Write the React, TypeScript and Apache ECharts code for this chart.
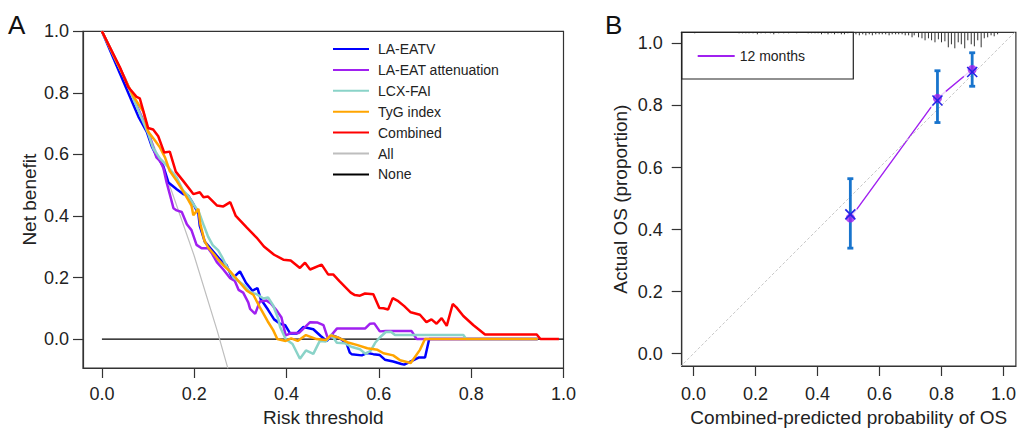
import React, { useEffect, useRef } from "react";
import * as echarts from "echarts";

// ---------- Panel A: decision curves ----------
const tickValues = [0, 0.2, 0.4, 0.6, 0.8, 1.0];

const laEatv: [number, number][] = [
  [0, 1.0], [0.04, 0.86], [0.079, 0.723], [0.097, 0.674], [0.108, 0.626], [0.118, 0.596], [0.133, 0.562],
  [0.144, 0.509], [0.162, 0.487], [0.176, 0.471], [0.187, 0.466], [0.198, 0.439], [0.209, 0.407],
  [0.212, 0.368], [0.223, 0.316], [0.238, 0.29], [0.256, 0.258], [0.27, 0.24], [0.283, 0.197],
  [0.299, 0.22], [0.312, 0.183], [0.326, 0.157], [0.337, 0.166], [0.344, 0.13], [0.36, 0.095],
  [0.373, 0.064], [0.386, 0.05], [0.397, 0.045], [0.408, 0.018], [0.422, 0.018], [0.436, 0.039],
  [0.458, 0.032], [0.474, 0.01], [0.487, -0.006], [0.498, 0.013], [0.516, 0.002], [0.53, -0.014],
  [0.537, -0.044], [0.541, -0.049], [0.563, -0.053], [0.575, -0.045], [0.588, -0.049], [0.602, -0.052],
  [0.613, -0.067], [0.631, -0.073], [0.649, -0.081], [0.655, -0.083], [0.686, -0.06], [0.7, -0.06],
  [0.709, 0.0], [0.944, 0.0],
];

const laEatAtt: [number, number][] = [
  [0, 1.0], [0.05, 0.846], [0.1, 0.675], [0.118, 0.59], [0.126, 0.578], [0.133, 0.557], [0.14, 0.51],
  [0.147, 0.471], [0.155, 0.425], [0.162, 0.418], [0.173, 0.413], [0.184, 0.373], [0.194, 0.354],
  [0.205, 0.306], [0.216, 0.295], [0.23, 0.295], [0.238, 0.279], [0.249, 0.25], [0.263, 0.226],
  [0.277, 0.199], [0.288, 0.189], [0.296, 0.16], [0.306, 0.151], [0.317, 0.119], [0.321, 0.098],
  [0.332, 0.082], [0.342, 0.122], [0.357, 0.125], [0.366, 0.116], [0.38, 0.09], [0.389, 0.07],
  [0.398, 0.012], [0.411, 0.02], [0.427, 0.02], [0.44, 0.039], [0.451, 0.055], [0.466, 0.054],
  [0.48, 0.045], [0.49, 0.0], [0.509, 0.034], [0.537, 0.034], [0.57, 0.034], [0.581, 0.05],
  [0.59, 0.051], [0.602, 0.025], [0.615, 0.026], [0.671, 0.026], [0.682, 0.0], [0.944, 0.0],
];

const lcxFai: [number, number][] = [
  [0, 1.0], [0.05, 0.845], [0.1, 0.669], [0.111, 0.62], [0.126, 0.586], [0.14, 0.565], [0.162, 0.525],
  [0.176, 0.482], [0.187, 0.466], [0.198, 0.439], [0.21, 0.413], [0.221, 0.368], [0.23, 0.333],
  [0.24, 0.305], [0.252, 0.288], [0.26, 0.267], [0.27, 0.237], [0.285, 0.2], [0.299, 0.185],
  [0.308, 0.175], [0.321, 0.152], [0.335, 0.146], [0.35, 0.132], [0.36, 0.135], [0.371, 0.109],
  [0.382, 0.066], [0.386, 0.039], [0.398, 0.0], [0.413, -0.016], [0.429, -0.064], [0.442, -0.037],
  [0.458, -0.048], [0.472, -0.006], [0.485, -0.008], [0.497, 0.015], [0.509, -0.012], [0.527, -0.014],
  [0.54, -0.025], [0.559, -0.033], [0.571, -0.048], [0.582, -0.038], [0.592, -0.012], [0.602, 0.005],
  [0.615, 0.023], [0.626, 0.024], [0.635, 0.013], [0.671, 0.013], [0.783, 0.013], [0.789, 0.0],
  [0.944, 0.0],
];

const tygIndex: [number, number][] = [
  [0, 1.0], [0.05, 0.845], [0.068, 0.789], [0.09, 0.738], [0.1, 0.674], [0.115, 0.645], [0.126, 0.622],
  [0.137, 0.589], [0.147, 0.546], [0.162, 0.514], [0.173, 0.487], [0.187, 0.452], [0.194, 0.434],
  [0.198, 0.402], [0.209, 0.423], [0.213, 0.375], [0.222, 0.32], [0.23, 0.298], [0.241, 0.279],
  [0.251, 0.26], [0.265, 0.237], [0.279, 0.218], [0.299, 0.183], [0.314, 0.157], [0.328, 0.144],
  [0.342, 0.104], [0.359, 0.058], [0.371, 0.029], [0.38, 0.0], [0.398, -0.006], [0.41, 0.002],
  [0.424, -0.006], [0.442, 0.013], [0.465, 0.0], [0.485, -0.003], [0.496, 0.012], [0.51, 0.006],
  [0.535, -0.012], [0.552, -0.019], [0.575, -0.03], [0.597, -0.035], [0.61, -0.046], [0.631, -0.053],
  [0.646, -0.069], [0.669, -0.078], [0.689, -0.035], [0.7, 0.0], [0.944, 0.0],
];

const combined: [number, number][] = [
  [0, 1.0], [0.02, 0.94], [0.039, 0.883], [0.057, 0.819], [0.075, 0.787], [0.082, 0.782], [0.1, 0.686],
  [0.111, 0.681], [0.122, 0.659], [0.135, 0.606], [0.147, 0.609], [0.16, 0.544], [0.176, 0.514],
  [0.198, 0.471], [0.212, 0.477], [0.22, 0.461], [0.23, 0.463], [0.249, 0.434], [0.263, 0.431],
  [0.278, 0.445], [0.29, 0.4], [0.314, 0.362], [0.335, 0.33], [0.351, 0.301], [0.373, 0.274],
  [0.393, 0.258], [0.409, 0.255], [0.429, 0.231], [0.44, 0.248], [0.451, 0.226], [0.476, 0.242],
  [0.49, 0.21], [0.501, 0.21], [0.514, 0.189], [0.539, 0.151], [0.548, 0.143], [0.559, 0.141],
  [0.57, 0.148], [0.588, 0.146], [0.601, 0.101], [0.61, 0.1], [0.62, 0.096], [0.63, 0.133],
  [0.642, 0.123], [0.655, 0.107], [0.669, 0.087], [0.689, 0.079], [0.703, 0.055], [0.714, 0.064],
  [0.725, 0.05], [0.736, 0.068], [0.747, 0.043], [0.76, 0.114], [0.768, 0.103], [0.783, 0.075],
  [0.805, 0.045], [0.83, 0.015], [0.942, 0.015], [0.95, 0.0], [0.99, 0.0],
];

const treatAll: [number, number][] = [
  [0, 1.0], [0.05, 0.846], [0.1, 0.676], [0.15, 0.485], [0.2, 0.27], [0.25, 0.026], [0.273, -0.096],
];

const treatNone: [number, number][] = [[0, 0], [1, 0]];

// ---------- Panel B: calibration ----------
const predProb = [0.506, 0.787, 0.899];
const observedOS = [0.437, 0.823, 0.916];
const kmOS = [0.449, 0.816, 0.908];
const ciLow = [0.34, 0.745, 0.862];
const ciHigh = [0.564, 0.912, 0.97];
const idealLine: [number, number][] = [[-0.1, -0.1], [1.1, 1.1]];

// rug of predicted probabilities: [position, frequency]
const rugFreq: [number, number][] = [
  [0.004, 1], [0.147, 1], [0.158, 1], [0.169, 1], [0.179, 1], [0.192, 1], [0.206, 2], [0.218, 1],
  [0.232, 1], [0.248, 1], [0.259, 2], [0.275, 1], [0.291, 1], [0.307, 1], [0.333, 1], [0.37, 1],
  [0.381, 1], [0.392, 1], [0.402, 1], [0.413, 2], [0.424, 1], [0.434, 2], [0.445, 1], [0.455, 2],
  [0.466, 1], [0.477, 2], [0.487, 2], [0.498, 1],
  [0.524, 2], [0.535, 3], [0.546, 2], [0.556, 3], [0.567, 2], [0.577, 3], [0.588, 2], [0.599, 2],
  [0.609, 2], [0.62, 2], [0.631, 3], [0.641, 2], [0.652, 2], [0.662, 2], [0.673, 2], [0.683, 3],
  [0.694, 3], [0.705, 5], [0.712, 3], [0.726, 5], [0.737, 6], [0.747, 8], [0.758, 6], [0.768, 8],
  [0.779, 10], [0.79, 7], [0.8, 10], [0.811, 9], [0.822, 15], [0.832, 12], [0.843, 16], [0.854, 10],
  [0.864, 12], [0.875, 16], [0.885, 8], [0.896, 12], [0.906, 14], [0.917, 8], [0.928, 15], [0.938, 6],
  [0.949, 5], [0.96, 3], [0.97, 4], [0.981, 2],
];

const FONT = "'Liberation Sans', Arial, Helvetica, sans-serif";
const TXT = "#222";
const AX = "#333";

const leftYMax = 1.0;
const rightYMax = 1.036;

function axisCommon(min: number, max: number, margin: number) {
  return {
    type: "value" as const,
    min,
    max,
    axisLine: { show: true, onZero: false, lineStyle: { color: AX, width: 1.2 } },
    axisTick: { show: true, customValues: tickValues, length: 10, lineStyle: { color: AX, width: 1.2 } },
    axisLabel: {
      show: true,
      customValues: tickValues,
      formatter: (v: number) => v.toFixed(1),
      fontFamily: FONT,
      fontSize: 18,
      color: TXT,
      margin,
    },
    splitLine: { show: false },
    nameTextStyle: { fontFamily: FONT, fontSize: 19, color: TXT },
    nameLocation: "middle" as const,
  };
}

function line(name: string, data: [number, number][], color: string, width: number) {
  return {
    name,
    type: "line" as const,
    xAxisIndex: 0,
    yAxisIndex: 0,
    data,
    showSymbol: false,
    symbol: "none",
    color,
    lineStyle: { color, width },
    silent: true,
  };
}

export default function App() {
  const ref = useRef<HTMLDivElement>(null);

  useEffect(() => {
    const chart = echarts.init(ref.current!, null, { renderer: "svg" });

    const option: any = {
      animation: false,
      backgroundColor: "#ffffff",
      textStyle: { fontFamily: FONT },
      grid: [
        { left: 83, top: 31.3, width: 480.5, height: 342, show: true, borderColor: AX, borderWidth: 1.2, backgroundColor: "transparent" },
        { left: 681.7, top: 32.3, width: 338.5, height: 338.4, show: true, borderColor: AX, borderWidth: 1.2, backgroundColor: "transparent" },
      ],
      xAxis: [
        { ...axisCommon(-0.041, 1.0, 17), gridIndex: 0, name: "Risk threshold", nameGap: 40 },
        { ...axisCommon(-0.038, 1.04, 19), gridIndex: 1, name: "Combined-predicted probability of OS", nameGap: 42 },
      ],
      yAxis: [
        { ...axisCommon(-0.094, leftYMax, 14), gridIndex: 0, name: "Net benefit", nameGap: 44 },
        { ...axisCommon(-0.04, rightYMax, 19), gridIndex: 1, name: "Actual OS (proportion)", nameGap: 52 },
      ],
      legend: [
        {
          orient: "vertical",
          left: 333,
          top: 41,
          padding: 0,
          itemGap: 4.9,
          itemWidth: 36,
          itemHeight: 2,
          icon: "rect",
          selectedMode: false,
          textStyle: { fontFamily: FONT, fontSize: 14, color: TXT, lineHeight: 16, padding: [0, 0, 0, 4] },
          data: ["LA-EATV", "LA-EAT attenuation", "LCX-FAI", "TyG index", "Combined", "All", "None"],
        },
        {
          orient: "vertical",
          left: 697.7,
          top: 48,
          padding: 0,
          itemWidth: 37,
          itemHeight: 2,
          icon: "rect",
          selectedMode: false,
          textStyle: { fontFamily: FONT, fontSize: 14, color: TXT, lineHeight: 16 },
          data: ["12 months"],
        },
      ],
      graphic: [
        { type: "text", left: 8, top: 12, style: { text: "A", fontFamily: FONT, fontSize: 26, fill: "#111" } },
        { type: "text", left: 605, top: 12, style: { text: "B", fontFamily: FONT, fontSize: 26, fill: "#111" } },
        {
          type: "rect",
          shape: { x: 681.7, y: 32.3, width: 171.6, height: 46.7 },
          style: { fill: "none", stroke: "#222", lineWidth: 1.2 },
          z: 10,
        },
      ],
      series: [
        line("None", treatNone, "#000000", 1.2),
        line("All", treatAll, "#BEBEBE", 1.2),
        line("LA-EATV", laEatv, "#0000FF", 2.5),
        line("LA-EAT attenuation", laEatAtt, "#A020F0", 2.5),
        line("LCX-FAI", lcxFai, "#8AD3C8", 2.5),
        line("TyG index", tygIndex, "#FFA500", 2.5),
        line("Combined", combined, "#FF0000", 2.5),
        // Panel B
        {
          name: "12 months",
          type: "line",
          xAxisIndex: 1,
          yAxisIndex: 1,
          data: predProb.map((p, i) => [p, observedOS[i]]),
          showSymbol: false,
          symbol: "none",
          color: "#A020F0",
          lineStyle: { color: "#A020F0", width: 1.4 },
          z: 2,
          silent: true,
        },
        {
          name: "gap",
          type: "scatter",
          xAxisIndex: 1,
          yAxisIndex: 1,
          data: predProb.map((p, i) => [p, observedOS[i]]),
          symbol: "circle",
          symbolSize: 22,
          itemStyle: { color: "#ffffff" },
          z: 3,
          silent: true,
        },
        {
          name: "ideal",
          type: "line",
          xAxisIndex: 1,
          yAxisIndex: 1,
          data: idealLine,
          showSymbol: false,
          symbol: "none",
          lineStyle: { color: "#C8C8C8", width: 1, type: [3, 2] },
          z: 4,
          silent: true,
        },
        {
          name: "rug",
          type: "custom",
          xAxisIndex: 1,
          yAxisIndex: 1,
          data: rugFreq,
          z: 4,
          silent: true,
          renderItem: (_p: any, api: any) => {
            const pt = api.coord([api.value(0), rightYMax]);
            return {
              type: "line",
              shape: { x1: pt[0], y1: pt[1], x2: pt[0], y2: pt[1] + api.value(1) },
              style: { stroke: "#333", lineWidth: 1 },
            };
          },
        },
        {
          name: "ci",
          type: "custom",
          xAxisIndex: 1,
          yAxisIndex: 1,
          data: predProb.map((p, i) => [p, ciLow[i], ciHigh[i]]),
          z: 5,
          silent: true,
          renderItem: (_p: any, api: any) => {
            const x = api.value(0);
            const lo = api.coord([x, api.value(1)]);
            const hi = api.coord([x, api.value(2)]);
            const c = 3;
            const st = { stroke: "#1874CD", lineWidth: 2.8 };
            return {
              type: "group",
              children: [
                { type: "line", shape: { x1: lo[0], y1: lo[1], x2: hi[0], y2: hi[1] }, style: st },
                { type: "line", shape: { x1: lo[0] - c, y1: lo[1], x2: lo[0] + c, y2: lo[1] }, style: st },
                { type: "line", shape: { x1: hi[0] - c, y1: hi[1], x2: hi[0] + c, y2: hi[1] }, style: st },
              ],
            };
          },
        },
        {
          name: "observed",
          type: "scatter",
          xAxisIndex: 1,
          yAxisIndex: 1,
          data: predProb.map((p, i) => [p, observedOS[i]]),
          symbol: "circle",
          symbolSize: 9,
          itemStyle: { color: "#A020F0" },
          z: 6,
          silent: true,
        },
        {
          name: "km",
          type: "custom",
          xAxisIndex: 1,
          yAxisIndex: 1,
          data: predProb.map((p, i) => [p, kmOS[i]]),
          z: 7,
          silent: true,
          renderItem: (_p: any, api: any) => {
            const pt = api.coord([api.value(0), api.value(1)]);
            const s = 5;
            const st = { stroke: "#2323E6", lineWidth: 1.6 };
            return {
              type: "group",
              children: [
                { type: "line", shape: { x1: pt[0] - s, y1: pt[1] - s, x2: pt[0] + s, y2: pt[1] + s }, style: st },
                { type: "line", shape: { x1: pt[0] - s, y1: pt[1] + s, x2: pt[0] + s, y2: pt[1] - s }, style: st },
              ],
            };
          },
        },
      ],
    };

    chart.setOption(option);
    return () => chart.dispose();
  }, []);

  return (
    <div
      ref={ref}
      style={{ position: "fixed", left: 0, top: 0, width: 1019, height: 432, background: "#fff" }}
    />
  );
}
